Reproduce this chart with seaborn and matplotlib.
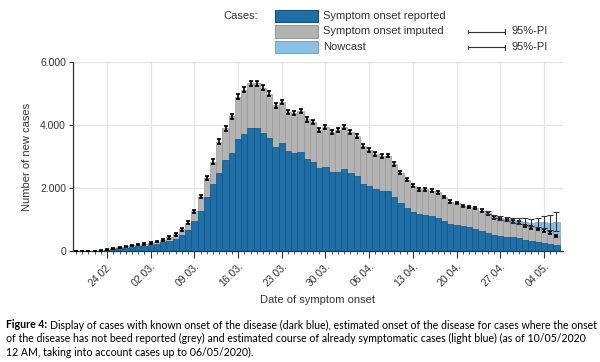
import pandas as pd
import seaborn as sns
import matplotlib.pyplot as plt
from matplotlib.patches import Rectangle
from matplotlib.lines import Line2D

# Tägliche Werte 19.02. - 06.05.2020
dates = pd.date_range('2020-02-19', '2020-05-06', freq='D')
labels = [d.strftime('%d.%m.') for d in dates]

# Erkrankungsbeginn bekannt (dunkelblau)
reported = [2, 3, 4, 6, 11, 35, 60, 85, 110, 135, 155, 170, 195, 235, 280, 330, 380, 500, 670,
            940, 1260, 1710, 2120, 2490, 2890, 3120, 3560, 3730, 3890, 3890, 3750, 3600, 3290,
            3420, 3160, 3100, 3150, 2910, 2840, 2630, 2680, 2520, 2520, 2610, 2470, 2390, 2120,
            2070, 1960, 1910, 1910, 1710, 1520, 1360, 1230, 1170, 1150, 1100, 1050, 960, 870,
            840, 780, 750, 710, 650, 580, 520, 490, 450, 440, 415, 365, 310, 280, 255, 225, 200]

# bekannt + imputiert (oberkante grau)
total = [3, 4, 5, 8, 15, 45, 80, 115, 145, 175, 200, 220, 250, 300, 360, 430, 530, 690, 900,
         1260, 1730, 2310, 2840, 3470, 3890, 4270, 4890, 5120, 5330, 5330, 5190, 4990, 4630,
         4730, 4420, 4390, 4440, 4180, 4100, 3840, 3940, 3790, 3840, 3940, 3790, 3650, 3330,
         3210, 3080, 3020, 3020, 2760, 2490, 2260, 2070, 1960, 1960, 1920, 1860, 1710, 1570,
         1520, 1430, 1400, 1360, 1280, 1190, 1070, 1020, 980, 930, 900, 800, 750, 700, 650, 590, 470]

# halbe Breite 95%-PI der Imputation
pi_half = [2, 2, 2, 2, 2,
           15, 20, 20, 25, 25, 25, 30, 30,
           30, 35, 35, 40, 40, 45, 50,
           55, 60, 65, 70, 70, 75, 80, 80, 80, 80, 80,
           75, 75, 75, 70, 70, 70, 70, 65, 65, 65, 60, 60, 60, 60, 60, 55, 55,
           55, 55, 50, 50, 50, 45, 45, 45, 45, 45, 40, 40, 40, 40, 40, 40, 40,
           40, 40, 40, 40, 40, 40, 40, 40, 40, 40, 40, 40, 40]

# Nowcast ab 25.04.
nowcast_labels = ['25.04.', '26.04.', '27.04.', '28.04.', '29.04.', '30.04.',
                  '01.05.', '02.05.', '03.05.', '04.05.', '05.05.', '06.05.']
nowcast = [1210, 1100, 1050, 1010, 970, 950, 930, 900, 910, 920, 900, 930]
nowcast_lo = [1170, 1060, 1000, 950, 900, 870, 830, 780, 760, 740, 680, 620]
nowcast_hi = [1260, 1150, 1110, 1080, 1050, 1040, 1040, 1030, 1060, 1100, 1130, 1250]

week_labels = ['24.02.', '02.03.', '09.03.', '16.03.', '23.03.', '30.03.',
               '06.04.', '13.04.', '20.04.', '27.04.', '04.05.']

dark_blue = '#1f6fa6'
grey = '#b3b3b3'
light_blue = '#8dbfe2'

df = pd.DataFrame({'Datum': labels, 'Bekannt': reported, 'Gesamt': total})
df_now = pd.DataFrame({'Datum': nowcast_labels, 'Nowcast': nowcast})

sns.set_theme(style='whitegrid')
plt.rcParams['font.family'] = ['Liberation Sans', 'DejaVu Sans']

fig = plt.figure(figsize=(6, 3.62), dpi=100)
ax = fig.add_axes([73 / 600, 1 - 251 / 362, 490 / 600, 189 / 362])

sns.barplot(data=df_now, x='Datum', y='Nowcast', order=labels, color=light_blue,
            saturation=1, width=1.0, edgecolor='#6fa8d6', linewidth=0.5, errorbar=None, ax=ax)
sns.barplot(data=df, x='Datum', y='Gesamt', order=labels, color=grey,
            saturation=1, width=1.0, edgecolor='#9a9a9a', linewidth=0.5, errorbar=None, ax=ax)
sns.barplot(data=df, x='Datum', y='Bekannt', order=labels, color=dark_blue,
            saturation=1, width=1.0, edgecolor='#0e5688', linewidth=0.5, errorbar=None, ax=ax)

pos = list(range(len(labels)))
ax.errorbar(pos, total, yerr=pi_half, fmt='none', ecolor='black', elinewidth=1.2,
            capsize=1.6, capthick=1.2, zorder=5)

now_pos = [labels.index(l) for l in nowcast_labels]
err_lo = [n - lo for n, lo in zip(nowcast, nowcast_lo)]
err_hi = [hi - n for n, hi in zip(nowcast, nowcast_hi)]
ax.errorbar(now_pos, nowcast, yerr=[err_lo, err_hi], fmt='none', ecolor='#333333',
            elinewidth=0.8, capsize=2.5, capthick=0.8, zorder=6)

ax.set_xlim(-0.45, len(labels) + 0.05)
ax.set_ylim(0, 6000)
ax.set_yticks([0, 2000, 4000, 6000])
ax.set_yticklabels(['0', '2.000', '4.000', '6.000'])
ax.set_xticks([labels.index(w) for w in week_labels])
ax.set_xticklabels(week_labels, rotation=45, ha='right', rotation_mode='anchor')
ax.set_xticks(pos, minor=True)

ax.grid(True, which='major', color='#e4e4e4', linewidth=0.9)
ax.set_axisbelow(True)
ax.tick_params(axis='x', which='major', bottom=True, length=5, width=0.8, color='#333333',
               labelsize=7.5, labelcolor='#333333', pad=2)
ax.tick_params(axis='x', which='minor', bottom=True, length=2.5, width=0.6, color='#333333')
ax.tick_params(axis='y', left=True, length=3, width=0.8, color='#333333',
               labelsize=7.5, labelcolor='#333333', pad=2)
for s in ['top', 'right']:
    ax.spines[s].set_visible(False)
for s in ['left', 'bottom']:
    ax.spines[s].set_color('#333333')
    ax.spines[s].set_linewidth(0.9)

ax.set_xlabel('Date of symptom onset', fontsize=8, color='#333333', labelpad=5)
ax.set_ylabel('Number of new cases', fontsize=8, color='#333333', labelpad=6)

# Legende oben
fig.text(258 / 600, 1 - 16 / 362, 'Cases:', ha='right', va='center', fontsize=8, color='#333333')
rows = [('Symptom onset reported', dark_blue, '#0e5688', False),
        ('Symptom onset imputed', grey, '#9a9a9a', True),
        ('Nowcast', light_blue, '#6fa8d6', True)]
for i, (txt, fc, ec, pi) in enumerate(rows):
    yc = 16 + i * 15.5
    fig.add_artist(Rectangle((275 / 600, 1 - (yc + 6) / 362), 43 / 600, 12 / 362,
                             facecolor=fc, edgecolor=ec, linewidth=0.8,
                             transform=fig.transFigure))
    fig.text(323 / 600, 1 - yc / 362, txt, ha='left', va='center', fontsize=8, color='#333333')
    if pi:
        fig.add_artist(Line2D([468 / 600, 505 / 600], [1 - yc / 362] * 2, color='#333333',
                              linewidth=0.8, transform=fig.transFigure))
        fig.add_artist(Line2D([505 / 600] * 2, [1 - (yc - 2.5) / 362, 1 - (yc + 2.5) / 362],
                              color='#333333', linewidth=0.8, transform=fig.transFigure))
        fig.add_artist(Line2D([468 / 600] * 2, [1 - (yc - 1.5) / 362, 1 - (yc + 1.5) / 362],
                              color='#333333', linewidth=0.8, transform=fig.transFigure))
        fig.text(511 / 600, 1 - yc / 362, '95%-PI', ha='left', va='center', fontsize=8,
                 color='#333333')

# Bildunterschrift
cap_font = ['Lato', 'DejaVu Sans']
cap_size = 7.6
lines = ['Display of cases with known onset of the disease (dark blue), estimated onset of the disease for cases where the onset',
         'of the disease has not beed reported (grey) and estimated course of already symptomatic cases (light blue) (as of 10/05/2020',
         '12 AM, taking into account cases up to 06/05/2020).']
y0 = 325
t_bold = fig.text(6 / 600, 1 - y0 / 362, 'Figure 4:', fontsize=cap_size, fontweight='bold',
                  family=cap_font, va='center', ha='left', color='black')
fig.canvas.draw()
bb = t_bold.get_window_extent()
fig.text((bb.x1 + 3) / 600, 1 - y0 / 362, lines[0], fontsize=cap_size, family=cap_font,
         va='center', ha='left', color='black')
fig.text(6 / 600, 1 - (y0 + 13.5) / 362, lines[1], fontsize=cap_size, family=cap_font,
         va='center', ha='left', color='black')
fig.text(6 / 600, 1 - (y0 + 27) / 362, lines[2], fontsize=cap_size, family=cap_font,
         va='center', ha='left', color='black')

fig.savefig('out.png', dpi=100)
